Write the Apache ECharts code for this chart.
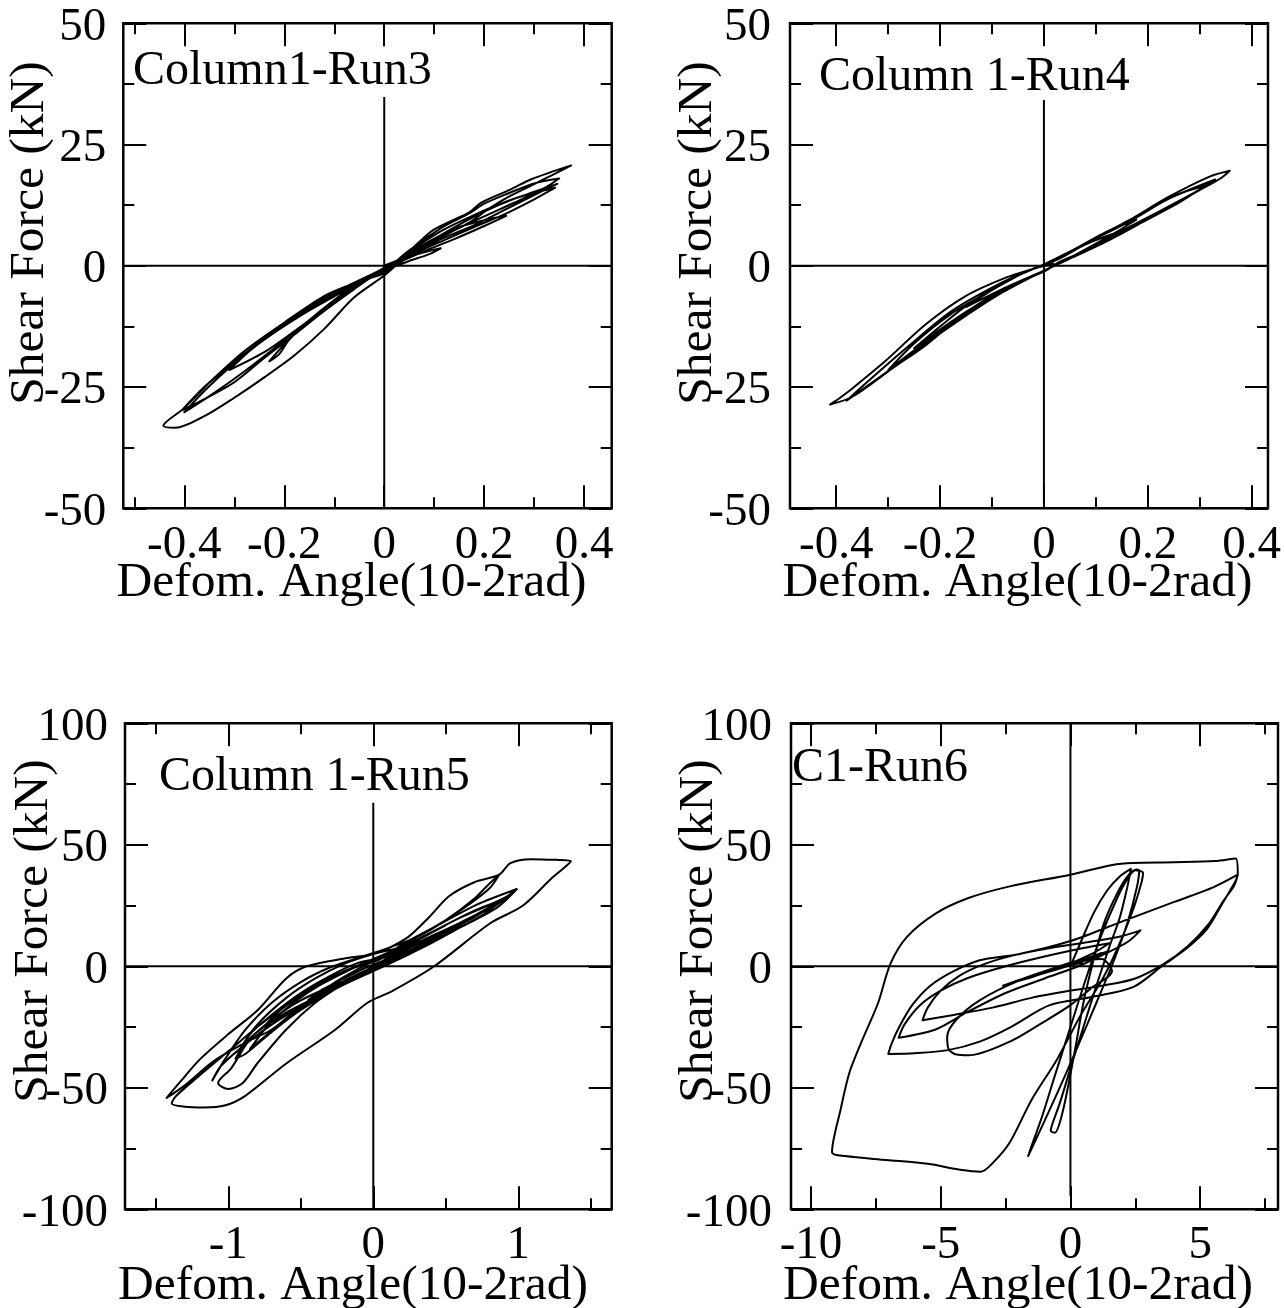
<!DOCTYPE html>
<html>
<head>
<meta charset="utf-8">
<script src="https://cdn.jsdelivr.net/npm/echarts@6/dist/echarts.min.js"></script>
<style>html,body{margin:0;padding:0;background:#fff}#c{width:1284px;height:1308px}</style>
</head>
<body>
<div id="c"></div>
<script>
// ---------- tick values ----------
const smallXMajor = [-0.4, -0.2, 0, 0.2, 0.4];
const p1XMinor = [-0.5, -0.3, -0.1, 0.1, 0.3];
const p2XMinor = [-0.3, -0.1, 0.1, 0.3];
const p3XMajor = [-1, 0, 1];
const p3XMinor = [-1.5, -0.5, 0.5, 1.5];
const p4XMajor = [-10, -5, 0, 5];
const p4XMinor = [-7.5, -2.5, 2.5, 7.5];
const topYMajor = [-50, -25, 0, 25, 50];
const topYMinor = [-37.5, -12.5, 12.5, 37.5];
const botYMajor = [-100, -50, 0, 50, 100];
const botYMinor = [-75, -25, 25, 75];

// ---------- axis extents ----------
const p1XRange = [-0.522, 0.455];
const p2XRange = [-0.489, 0.4315];
const p3XRange = [-1.712, 1.644];
const p4XRange = [-10.77, 8.0];
const topYRange = [-50, 50];
const botYRange = [-100, 100];

// ---------- texts ----------
const panelTitles = ['Column1-Run3', 'Column 1-Run4', 'Column 1-Run5', 'C1-Run6'];
const xName = 'Defom. Angle(10-2rad)';
const yName = 'Shear Force (kN)';

// ---------- reference lines (x, y) ----------
const p1HLine = [[-0.522, 0], [0.455, 0]];
const p1VLine = [[0, 34.8], [0, -50]];
const p2HLine = [[-0.489, 0], [0.4315, 0]];
const p2VLine = [[0, 34.2], [0, -49]];
const p3HLine = [[-1.712, 0], [1.644, 0]];
const p3VLine = [[0, 67.3], [0, -100]];
const p4HLine = [[-10.77, 0], [8.0, 0]];
const p4VLine = [[0, 100], [0, -94.5]];

// ---------- hysteresis data: [deformation angle, shear force] ----------
const p1Data = [
 [0,0],[0.04,1.6],[0.08,2.8],[0.113,3.6],[0.09,2.4],[0.05,1.0],[0.0,-1.0],[-0.05,-3.2],[-0.10,-6.0],[-0.13,-7.5],[-0.09,-5.0],[-0.04,-2.5],[0.0,-0.5],
 [0.05,2.6],[0.10,5.6],[0.15,8.0],[0.20,9.4],[0.244,10.3],[0.20,8.2],[0.14,5.5],[0.08,3.0],[0.02,0.3],[-0.03,-2.2],[-0.08,-5.5],[-0.13,-9.5],[-0.18,-14.0],[-0.23,-19.7],[-0.21,-18.2],[-0.19,-15.2],[-0.14,-10.6],[-0.09,-6.8],[-0.04,-3.2],[0.0,-1.0],
 [0.04,2.2],[0.08,5.0],[0.12,7.5],[0.17,10.0],[0.22,12.3],[0.28,14.5],[0.342,16.1],[0.30,13.7],[0.24,10.6],[0.18,8.0],[0.12,5.3],[0.06,2.5],[0.0,-0.8],[-0.06,-4.5],[-0.12,-9.0],[-0.18,-13.5],[-0.24,-17.8],[-0.31,-21.5],[-0.27,-17.6],[-0.22,-13.8],[-0.16,-9.8],[-0.10,-6.3],[-0.04,-3.0],[0.0,-1.2],
 [0.04,2.4],[0.08,5.4],[0.12,8.2],[0.17,10.8],[0.20,12.8],[0.25,15.0],[0.30,17.0],[0.35,18.0],[0.32,16.0],[0.26,13.0],[0.20,10.2],[0.14,7.3],[0.08,4.0],[0.02,0.8],[-0.04,-3.0],[-0.10,-7.6],[-0.16,-12.0],[-0.22,-17.0],[-0.28,-21.8],[-0.34,-26.2],[-0.40,-30.2],[-0.36,-25.8],[-0.31,-21.0],[-0.26,-16.8],[-0.20,-12.0],[-0.14,-7.8],[-0.08,-4.6],[-0.02,-1.8],
 [0.03,1.2],[0.072,5.1],[0.097,7.3],[0.129,9.0],[0.17,11.0],[0.195,13.1],[0.252,15.7],[0.293,17.8],[0.374,20.7],[0.342,19.0],[0.293,16.5],[0.252,14.4],[0.211,11.9],[0.17,8.9],[0.129,6.8],[0.088,4.3],[0.048,2.2],[0.0,-2.0],[-0.06,-6.5],[-0.12,-13.0],[-0.18,-18.5],[-0.24,-23.0],[-0.30,-27.2],[-0.36,-31.0],[-0.418,-33.4],[-0.442,-33.0],[-0.401,-29.4],[-0.344,-23.5],[-0.279,-17.5],[-0.197,-11.5],[-0.116,-6.0],[-0.05,-3.2],[0.0,-1.5],
 [0.05,2.0],[0.10,5.5],[0.15,8.5],[0.20,11.2],[0.26,13.8],[0.346,16.9],[0.30,14.6],[0.24,11.5],[0.18,8.4],[0.12,5.8],[0.06,2.8],[0.0,-0.6],[-0.06,-4.8],[-0.12,-9.3],[-0.18,-14.2],[-0.24,-19.0],[-0.30,-24.0],[-0.36,-27.5],[-0.405,-29.8],[-0.36,-25.0],[-0.30,-19.8],[-0.24,-15.0],[-0.17,-10.2],[-0.10,-5.8],[-0.04,-2.5],[0.0,-1.0]
];
const p2Data = [
 [0,0],[0.04,2.2],[0.084,4.6],[0.131,6.5],[0.10,4.0],[0.05,1.5],[0,-1],[-0.07,-4.3],[-0.15,-8.5],[-0.10,-5.0],[-0.05,-2.0],[0,0.3],
 [0.06,3.5],[0.12,7.0],[0.178,9.5],[0.14,7.0],[0.08,3.4],[0.02,0],[-0.06,-4.0],[-0.15,-9.5],[-0.25,-17.0],[-0.20,-12.5],[-0.14,-7.5],[-0.07,-3.0],[0,0.3],
 [0.084,4.8],[0.1625,9.1],[0.24,14.0],[0.31,16.5],[0.26,13.0],[0.19,9.0],[0.12,5.0],[0.05,1.5],[0,-1],[-0.10,-6.5],[-0.20,-13.5],[-0.30,-21.5],[-0.25,-16.0],[-0.18,-10.0],[-0.10,-5.0],[-0.03,-1.0],[0.03,1.5],
 [0.10,5.8],[0.1625,9.3],[0.24,14.2],[0.319,18.4],[0.358,19.6],[0.34,18.0],[0.303,15.8],[0.24,12.0],[0.17,8.0],[0.084,3.3],[0.03,0.8],[0,-1.2],[-0.072,-4.5],[-0.15,-9.6],[-0.228,-16.4],[-0.29,-21.0],[-0.369,-27.0],[-0.412,-28.6],[-0.39,-27.0],[-0.369,-25.3],[-0.306,-19.7],[-0.228,-12.1],[-0.15,-6.2],[-0.072,-2.4],[0,0.2],
 [0.084,4.8],[0.1625,9.0],[0.24,13.8],[0.33,17.8],[0.28,14.5],[0.20,10.0],[0.12,5.5],[0.05,1.5],[0,-1],[-0.08,-5.5],[-0.16,-11.0],[-0.24,-17.0],[-0.31,-22.5],[-0.38,-27.8],[-0.33,-23.0],[-0.26,-16.5],[-0.18,-9.5],[-0.10,-4.5],[-0.03,-1.0],[0.02,0.5]
];
const p3Data = [
 [0,0],[0.15,5],[0.3,9],[0.45,12.5],[0.35,9],[0.2,5],[0.05,1],[-0.1,-3],[-0.25,-7.5],[-0.45,-14],[-0.35,-9.5],[-0.2,-5],[-0.05,-0.5],[0.1,3],
 [0.25,7.5],[0.45,13.5],[0.62,18.5],[0.5,14],[0.35,9.5],[0.2,5],[0.05,0.5],[-0.15,-5.5],[-0.35,-11],[-0.55,-18],[-0.75,-24.5],[-0.62,-17],[-0.45,-10.5],[-0.25,-4],[-0.05,1.5],[0.15,6],
 [0.3,10.5],[0.5,17],[0.7,23],[0.85,26.5],[0.72,21],[0.55,15.5],[0.35,9],[0.15,3],[-0.1,-4],[-0.35,-11.5],[-0.6,-19],[-0.8,-27],[-0.92,-34],[-0.8,-24],[-0.6,-13],[-0.4,-5],[-0.2,1],[0,5],
 [0.2,8],[0.4,12],[0.7,21],[0.9,27.5],[0.75,21],[0.5,13],[0.25,5],[0,-2],[-0.25,-9],[-0.5,-18],[-0.7,-27],[-0.88,-36],[-0.95,-38],[-0.85,-28],[-0.7,-20],[-0.5,-11],[-0.3,-4],[-0.1,1.5],[0.1,4],
 [0.35,11],[0.6,18],[0.8,24],[0.6,17],[0.4,11],[0.2,4.5],[0,-1],[-0.3,-10],[-0.55,-19],[-0.75,-29],[-0.85,-34],[-0.72,-24],[-0.55,-15],[-0.35,-7],[-0.15,-1],[0.05,3],
 [0.2,9],[0.45,17],[0.7,25],[0.99,31.8],[0.85,25.5],[0.65,19],[0.45,12.5],[0.25,6],[0.05,0],[-0.2,-7],[-0.45,-15],[-0.7,-24],[-0.9,-33],[-1.05,-41],[-1.11,-47],[-1.02,-38],[-0.88,-26],[-0.7,-15],[-0.5,-6.5],[-0.3,-0.5],[-0.1,3.5],[0.1,7.5],
 [0.3,12],[0.5,19],[0.7,28],[0.8,34],[0.868,37.7],[0.8,32],[0.65,25],[0.5,19],[0.3,12],[0.1,5],[-0.1,-1],[-0.3,-8],[-0.5,-17],[-0.7,-26],[-0.9,-32],[-1.1,-39],[-1.3,-49],[-1.425,-54.2],
 [-1.335,-47.8],[-1.194,-38.2],[-0.997,-27.8],[-0.8,-18.2],[-0.6,-5],[-0.46,0],[-0.18,3.4],[0,5],[0.1,7.3],[0.242,12.1],[0.383,20.1],[0.524,28.9],[0.693,34.5],[0.868,37.7],[0.946,42.5],[1.087,44.1],[1.256,43.8],[1.363,43.3],
 [1.228,36.1],[1.03,24.9],[0.806,17.7],[0.42,0],[0.13,-10.2],[-0.04,-15],[-0.265,-26.2],[-0.6,-40],[-0.885,-53.4],[-1.025,-57.3],[-1.166,-58.1],[-1.3,-57.8],[-1.39,-56.5],[-1.36,-53.4],
 [-1.2,-45],[-1.0,-35],[-0.8,-25],[-0.6,-16],[-0.4,-8],[-0.2,-2],[0,3],[0.3,11],[0.6,20],[0.9,28],[0.99,31.8],[0.85,24],[0.6,16],[0.35,8],[0.1,1],[-0.2,-6],[-0.5,-14],[-0.7,-22],[-0.85,-30],
 [-0.98,-42],[-1.07,-48],[-1.0,-50.5],[-0.9,-48],[-0.8,-40],[-0.6,-26],[-0.4,-15],[-0.2,-7],[0,0],[0.2,5],[0.1,2]
];
const p4Data = [
 [0,0],[0.4,10],[0.9,22],[1.4,31],[1.9,37],[2.33,40.1],
 [2.2,33],[1.9,20],[1.5,8],[1.0,-8],[0.5,-25],[0,-42],[-0.4,-56],[-0.7,-65],[-0.76,-67.7],[-0.6,-68.5],[-0.35,-62],
 [-0.1,-50],[0.2,-33],[0.5,-15],[0.9,3],[1.3,18],[1.8,30],[2.2,37],[2.55,39.8],[2.65,39.3],
 [2.55,32],[2.2,18],[1.7,3],[1.0,-15],[0.2,-35],[-0.5,-52],[-1.1,-66],[-1.63,-78.1],
 [-1.5,-74],[-1.1,-62],[-0.6,-45],[0,-25],[0.6,-5],[1.2,13],[1.8,28],[2.2,36],[2.5,39.5],[2.8,38.5],[2.75,35],
 [2.5,26],[2.0,12],[1.3,-4],[0.4,-20],[-0.5,-38],[-1.5,-55],[-2.34,-72.5],[-3.0,-81],[-3.45,-84.5],
 [-4.25,-83.7],[-5.5,-81.3],[-7.1,-79.7],[-8.68,-78.1],[-9.19,-76.5],
 [-8.84,-58.1],[-8.52,-43.8],[-8.05,-31],[-7.41,-15],[-6.94,1],[-6.3,12.1],[-5.2,21.7],[-3.93,28.1],[-2.34,32.9],[0,37.7],[1.62,41.7],[2.41,42.5],[3.99,42.8],[5.58,43.3],[6.37,44.4],
 [6.45,38],[6.2,32],[5.89,26.5],[5.26,15.3],[4.47,7.3],[3.52,0],[2.41,-8.6],[0.82,-12.6],[-0.8,-16],[-2.3,-25],[-3.5,-31],[-4.72,-34.5],[-6,-35.8],[-7.02,-36.1],
 [-6.9,-32],[-6.6,-25],[-6.1,-16],[-5.4,-8],[-4.5,-2],[-3.5,2.5],[-2,5],[0,10.4],[2,18.5],[4,26.5],[5.5,32.5],[6.45,37.7],
 [6.3,33],[5.9,27],[5.3,17],[4.5,8],[3.6,1],[2.5,-5],[1.2,-8],[0,-10],[-1.5,-13],[-3,-17],[-4.5,-20],[-5.7,-22.2],
 [-5.5,-17],[-5.0,-10],[-4.3,-4],[-3.3,1],[-2,5],[-0.5,8],[1,10.5],[2.0,12.5],[2.7,14.8],
 [2.2,10],[1.3,5],[0.3,0],[-1,-5],[-2.5,-11],[-4,-19],[-5.2,-26],[-6.62,-29.4],
 [-6.4,-24],[-5.8,-16],[-5,-10],[-4,-5],[-2.5,0],[-1,4],[0.5,7.5],[1.5,9.5],
 [0.8,5],[-0.5,-1],[-2,-6],[-3.5,-14],[-4.4,-22],[-4.75,-29],[-4.7,-34],[-4.4,-36.3],[-3.93,-36.6],[-2.34,-31],[-1.2,-24],[0,-16],[0.8,-9],[1.6,-2],
 [1.2,3],[0.4,2],[-0.8,-2],[-2.0,-6],[-2.6,-8],[-1.8,-5],[-0.6,-1],[0.6,3],[1.4,6],[0.8,3.5],[-0.3,0],[-1.5,-4.5],[-2.2,-6.5],[-1.4,-3.5],[-0.3,0.5],[0.8,4],[1.2,5.5],[0.4,2],[-0.6,-1.5],[-1.6,-4.5],[-1.0,-2.5],[0,0.5],[0.5,1.5]
];

// ---------- layout ----------
const FONT = 'Liberation Serif';
const panels = [
  {grid:{left:123.3, top:23.3, width:488.4, height:485}, xr:p1XRange, yr:topYRange, xMaj:smallXMajor, xMin:p1XMinor, yMaj:topYMajor, yMin:topYMinor, data:p1Data, h:p1HLine, v:p1VLine, ylm:17, xlm:14,
   title:{x:133, y:71}, xn:{x:351.5, y:583}, yn:{x:30, y:233}},
  {grid:{left:790, top:23.3, width:485, height:485}, xr:p2XRange, yr:topYRange, xMaj:smallXMajor, xMin:p2XMinor, yMaj:topYMajor, yMin:topYMinor, data:p2Data, h:p2HLine, v:p2VLine, ylm:19, xlm:14,
   title:{x:819, y:77}, xn:{x:1017.5, y:583}, yn:{x:698, y:233}},
  {grid:{left:125, top:723.3, width:486.7, height:486}, xr:p3XRange, yr:botYRange, xMaj:p3XMajor, xMin:p3XMinor, yMaj:botYMajor, yMin:botYMinor, data:p3Data, h:p3HLine, v:p3VLine, ylm:17, xlm:13,
   title:{x:159, y:777}, xn:{x:353, y:1286}, yn:{x:34, y:931}},
  {grid:{left:791, top:723.3, width:487, height:486}, xr:p4XRange, yr:botYRange, xMaj:p4XMajor, xMin:p4XMinor, yMaj:botYMajor, yMin:botYMinor, data:p4Data, h:p4HLine, v:p4VLine, ylm:19, xlm:13,
   title:{x:792, y:768}, xn:{x:1018, y:1286}, yn:{x:699, y:931}}
];

const grids = [], xAxes = [], yAxes = [], series = [], graphics = [];
const tickStyle = {color:'#000', width:2};
function mkAxis(kind, gi, range, pos, vals, len, labels, margin) {
  const label = {show:labels, customValues:vals, color:'#000', fontFamily:FONT, fontSize:47, margin:margin,
      formatter:(v)=>String(v)};
  if (kind === 'y') { label.verticalAlign = 'top'; label.lineHeight = 8; }
  return {
    type:'value', gridIndex:gi, position:pos, min:range[0], max:range[1],
    axisLine:{show:false, onZero:false},
    splitLine:{show:false},
    axisTick:{show:true, inside:true, length:len, lineStyle:tickStyle, customValues:vals},
    axisLabel:label
  };
}
panels.forEach((p, i) => {
  grids.push(Object.assign({show:true, borderColor:'#000', borderWidth:2.5, backgroundColor:'transparent', containLabel:false}, p.grid));
  const xb = xAxes.length, yb = yAxes.length;
  xAxes.push(mkAxis('x', i, p.xr, 'bottom', p.xMaj, 23, true, p.xlm));
  xAxes.push(mkAxis('x', i, p.xr, 'bottom', p.xMin, 11, false, 0));
  xAxes.push(mkAxis('x', i, p.xr, 'top', p.xMaj, 23, false, 0));
  xAxes.push(mkAxis('x', i, p.xr, 'top', p.xMin, 11, false, 0));
  yAxes.push(mkAxis('y', i, p.yr, 'left', p.yMaj, 23, true, p.ylm));
  yAxes.push(mkAxis('y', i, p.yr, 'left', p.yMin, 11, false, 0));
  yAxes.push(mkAxis('y', i, p.yr, 'right', p.yMaj, 23, false, 0));
  yAxes.push(mkAxis('y', i, p.yr, 'right', p.yMin, 11, false, 0));
  const base = {type:'line', xAxisIndex:xb, yAxisIndex:yb, showSymbol:false, symbol:'none', animation:false, silent:true};
  series.push(Object.assign({}, base, {data:p.h, lineStyle:{color:'#000', width:2}}));
  series.push(Object.assign({}, base, {data:p.v, lineStyle:{color:'#000', width:2}}));
  series.push(Object.assign({}, base, {data:p.data, smooth:0.3, lineStyle:{color:'#000', width:2, join:'round'}}));
  graphics.push({type:'text', x:p.title.x, y:p.title.y, style:{text:panelTitles[i], fill:'#000', fontFamily:FONT, fontSize:48, align:'left', verticalAlign:'middle'}});
  graphics.push({type:'text', x:p.xn.x, y:p.xn.y, style:{text:xName, fill:'#000', fontFamily:FONT, fontSize:49.5, align:'center', verticalAlign:'middle'}});
  graphics.push({type:'text', x:p.yn.x, y:p.yn.y, rotation:Math.PI/2, style:{text:yName, fill:'#000', fontFamily:FONT, fontSize:49.5, align:'center', verticalAlign:'middle'}});
});

const chart = echarts.init(document.getElementById('c'), null, {renderer:'canvas'});
chart.setOption({
  backgroundColor:'#fff', animation:false,
  grid:grids, xAxis:xAxes, yAxis:yAxes, series:series, graphic:graphics
});
</script>
</body>
</html>
